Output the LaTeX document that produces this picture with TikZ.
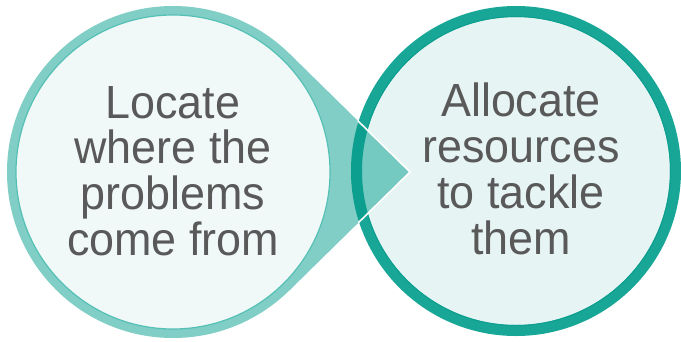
\documentclass[tikz,border=0pt]{standalone}
\usepackage{fontspec}
\setmainfont[FakeStretch=0.965]{Liberation Sans}
\definecolor{ringlight}{HTML}{80CEC6}
\definecolor{ringlightedge}{HTML}{55C0B5}
\definecolor{fillleft}{HTML}{F0F8F8}
\definecolor{ringdark}{HTML}{18A797}
\definecolor{ringdarker}{HTML}{0C9E8F}
\definecolor{fillright}{HTML}{E6F4F3}
\definecolor{pointerfill}{HTML}{74C9C0}
\definecolor{textgray}{HTML}{595959}
\tikzset{
  label text/.style={text=textgray, align=center, inner sep=0pt,
    font=\fontsize{46.5}{45.8}\selectfont},
}
\begin{document}
\begin{tikzpicture}[x=1pt,y=-1pt]
\useasboundingbox (0,0) rectangle (681,341);
% centres and pointer geometry
\coordinate (cl) at (173,172);
\coordinate (cr) at (516,171);
\coordinate (tip) at (410,172);
\coordinate (tu) at (289.3,53.5);
\coordinate (td) at (289.3,290.5);
% right circle: fill and thick dark ring
\fill[fillright] (cr) circle (160);
\draw[ringdark, line width=11pt] (cr) circle (159.5);
\draw[ringdarker, line width=1pt] (cr) circle (154.5);
% pointer of the left bubble, lying over the right circle
\fill[ringlight] (tu) -- (tip) -- (td) -- cycle;
\begin{scope}
  \clip (tu) -- (tip) -- (td) -- cycle;
  \fill[pointerfill] (cr) circle (165);
  \draw[ringdarker, line width=11pt] (cr) circle (159.5);
\end{scope}
\begin{scope}
  \clip (cr) circle (166);
  \draw[white, line width=1.6pt, line join=miter] (tu) -- (tip) -- (td);
\end{scope}
% left circle: light ring and inner disc
\fill[ringlight] (cl) circle (166);
\node[circle, minimum size=314pt, inner sep=0pt, fill=fillleft,
      draw=ringlightedge, line width=1.2pt] (left) at (cl) {};
\node[circle, minimum size=308pt, inner sep=0pt] (right) at (cr) {};
% texts
\node[label text] (lefttext) at ([yshift=1pt]left.center)
  {Locate\\where the\\problems\\come from};
\node[label text] (righttext) at ([xshift=5pt,yshift=2pt]right.center)
  {Allocate\\resources\\to tackle\\them};
\end{tikzpicture}
\end{document}
